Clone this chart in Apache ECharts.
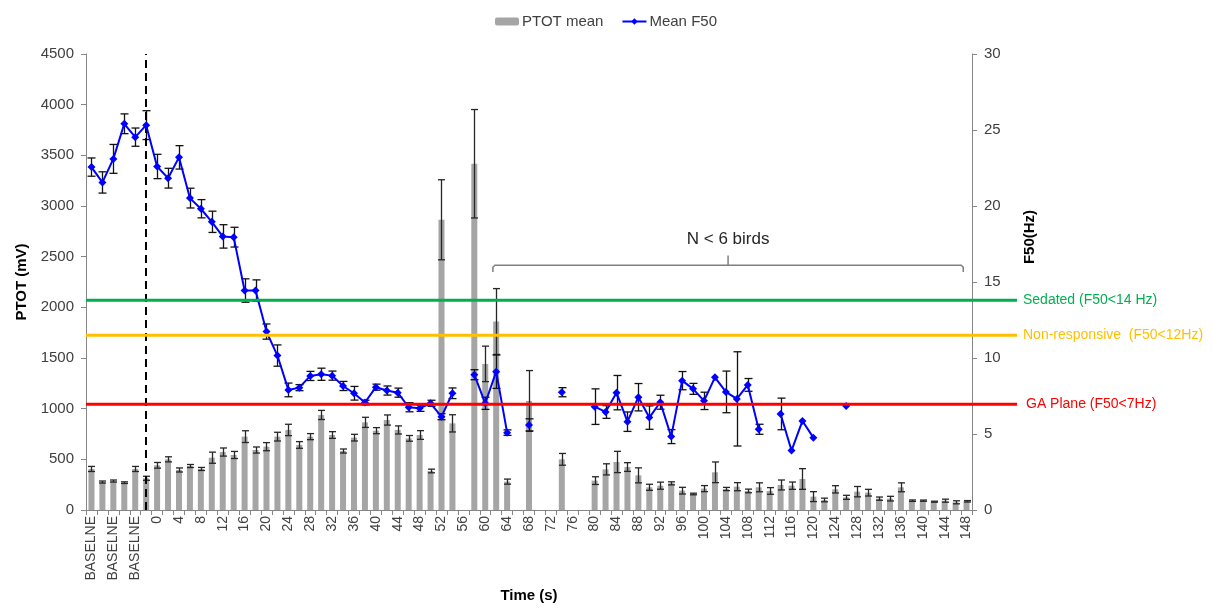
<!DOCTYPE html>
<html>
<head>
<meta charset="utf-8">
<script src="https://cdn.jsdelivr.net/npm/echarts@6/dist/echarts.min.js"></script>
<style>
html,body{margin:0;padding:0;background:#fff;}
#chart{width:1212px;height:608px;}
</style>
</head>
<body>
<div id="chart"></div>
<script>
// ---- categories / tick labels ----
var baselineLabels = ['BASELNE','BASELNE','BASELNE','BASELNE','BASELNE','BASELNE'];
var timeLabels = ['0','2','4','6','8','10','12','14','16','18','20','22','24','26','28','30','32','34','36','38',
  '40','42','44','46','48','50','52','54','56','58','60','62','64','66','68','70','72','74','76','78',
  '80','82','84','86','88','90','92','94','96','98','100','102','104','106','108','110','112','114','116','118',
  '120','122','124','126','128','130','132','134','136','138','140','142','144','146','148'];
var categories = baselineLabels.concat(timeLabels);

// ---- PTOT mean (mV) and its error ----
var ptotMean = [405,276,286,270,405,313,
  441,500,395,434,405,516,572,543,724,592,625,724,790,642,724,938,740,582,714,865,783,888,790,707,
  740,385,2864,855,null,3417,1442,1860,280,null,1076,null,null,500,null,null,290,401,474,424,
  342,224,240,263,191,158,211,372,207,230,188,224,188,247,240,306,132,99,204,125,
  181,171,112,112,224,92,92,82,92,76,86];
var ptotErr = [25,10,10,8,25,20,
  28,25,20,15,15,55,40,35,58,30,40,43,56,33,30,45,33,20,33,50,30,50,40,28,
  43,18,395,85,null,535,175,325,25,null,300,null,null,58,null,null,38,55,105,43,
  74,30,35,15,33,8,30,102,16,40,18,44,33,49,36,102,49,18,36,20,
  51,33,16,23,44,7,6,5,15,15,7];

// ---- Mean F50 (Hz) and its error ----
var f50Mean = [22.56,21.55,23.1,25.41,24.53,25.32,
  22.6,21.83,23.2,20.52,19.82,18.96,18.0,17.95,14.44,14.44,11.74,10.16,7.9,8.05,8.82,8.93,8.84,8.16,7.68,7.07,8.08,7.86,7.72,6.76,
  6.69,7.02,6.14,7.68,null,8.9,7.02,9.1,5.09,null,5.6,null,null,7.75,null,null,6.8,6.45,7.72,5.81,
  7.42,6.08,7.09,4.83,8.51,7.97,7.18,8.73,7.77,7.31,8.23,5.31,null,6.32,3.91,5.86,4.76,null,null,6.85,
  null,null,null,null,null,null,null,null,null,null,null];
var f50Err = [0.6,0.7,0.95,0.65,0.6,0.95,
  0.8,0.65,0.77,0.65,0.6,0.7,0.77,0.65,0.77,0.7,0.5,0.7,0.45,0.2,0.3,0.4,0.3,0.3,0.45,0.15,0.2,0.3,0.3,0.3,
  0.2,0.2,0.2,0.35,null,0.33,0.4,1.1,0.18,null,0.4,null,null,0.3,null,null,1.17,0.42,1.13,0.64,
  0.9,0.77,0.46,0.46,0.6,0.36,0.57,0,1.37,3.1,0.42,0.33,null,1.04,0,0,0,null,null,0,
  null,null,null,null,null,null,null,null,null,null,null];

// ---- threshold lines (Hz) ----
var thresholdNames = ['Sedated (F50<14 Hz)','Non-responsive  (F50<12Hz)','GA Plane (F50<7Hz)'];
var thresholdValues = [13.8, 11.5, 6.95];
var thresholdColors = ['#00b050','#ffc000','#ff0000'];

// ---- annotations ----
var injectionIndex = 5;           // dashed vertical line at end of baseline
var braceText = 'N < 6 birds';
var braceFromIndex = 36.7, braceToIndex = 79.7, braceMidIndex = 58.2;
var braceLevel = 16.1, braceEndLevel = 15.65, braceTipLevel = 16.75, braceTextLevel = 17.8;

var FONT = 'Liberation Sans';

function errData(mean, err){
  var out = [];
  for (var i = 0; i < mean.length; i++){
    if (mean[i] != null && err[i]) out.push([i, mean[i] - err[i], mean[i] + err[i]]);
  }
  return out;
}
function makeErrRender(color, cap){
  return function(params, api){
    var lo = api.coord([api.value(0), api.value(1)]);
    var hi = api.coord([api.value(0), api.value(2)]);
    var x = Math.round(lo[0]) + 0.5;
    var st = {stroke: color, lineWidth: 1.3};
    return {type:'group', children:[
      {type:'line', shape:{x1:x,y1:lo[1],x2:x,y2:hi[1]}, style:st},
      {type:'line', shape:{x1:x-cap,y1:lo[1],x2:x+cap,y2:lo[1]}, style:st},
      {type:'line', shape:{x1:x-cap,y1:hi[1],x2:x+cap,y2:hi[1]}, style:st}
    ]};
  };
}

var chart = echarts.init(document.getElementById('chart'), null, {renderer:'canvas'});

var series = [
  {
    name:'PTOT mean', type:'bar', xAxisIndex:0, yAxisIndex:0,
    data: ptotMean, barWidth: 6,
    itemStyle:{color:'#a5a5a5'},
    z: 2,
    markLine:{
      silent:true, symbol:['none','none'], label:{show:false},
      lineStyle:{color:'#000', width:2, type:[8,5]},
      data:[{xAxis: injectionIndex}],
      animation:false
    }
  },
  {
    name:'PTOT err', type:'custom', xAxisIndex:0, yAxisIndex:0,
    renderItem: makeErrRender('#262626', 3.5),
    data: errData(ptotMean, ptotErr),
    encode:{x:0, y:[1,2]}, z: 3, silent:true
  },
  {
    name:'F50 err', type:'custom', xAxisIndex:0, yAxisIndex:1,
    renderItem: makeErrRender('#111', 4),
    data: errData(f50Mean, f50Err),
    encode:{x:0, y:[1,2]}, z: 4, silent:true
  },
  {
    name:'Mean F50', type:'line', xAxisIndex:0, yAxisIndex:1,
    data: f50Mean, connectNulls:false,
    symbol:'diamond', symbolSize:8, showAllSymbol:true,
    lineStyle:{color:'#0000ff', width:2},
    itemStyle:{color:'#0000ff'},
    z: 5
  }
];

// threshold lines live on a second, wider grid sharing the F50 scale
thresholdValues.forEach(function(v, k){
  series.push({
    name: thresholdNames[k], type:'line', xAxisIndex:1, yAxisIndex:2,
    data:[[0, v],[1, v]], symbol:'none', silent:true,
    lineStyle:{color:thresholdColors[k], width:3},
    itemStyle:{color:thresholdColors[k]},
    z: 6,
    endLabel:{show:true, formatter: thresholdNames[k], color:thresholdColors[k],
      fontFamily:FONT, fontSize:14, distance: k === 2 ? 9 : 6}
  });
});

var option = {
  animation:false,
  backgroundColor:'#fff',
  textStyle:{fontFamily:FONT},
  legend:{
    data:['PTOT mean','Mean F50'],
    top: 9, left:'center',
    itemWidth:24, itemHeight:8, itemGap:18,
    textStyle:{fontFamily:FONT, fontSize:15, color:'#404040', padding:[0,0,0,-2]}
  },
  grid:[
    {left:86, right:240, top:54, bottom:98, outerBoundsMode:'none', containLabel:false},
    {left:86, right:195, top:54, bottom:98, outerBoundsMode:'none', containLabel:false}
  ],
  xAxis:[
    {
      type:'category', data:categories, gridIndex:0,
      name:'Time (s)', nameLocation:'middle', nameGap:78,
      nameTextStyle:{fontFamily:FONT, fontSize:15, fontWeight:'bold', color:'#000'},
      axisLine:{lineStyle:{color:'#868686'}},
      axisTick:{show:true, interval:0, length:5, lineStyle:{color:'#868686'}},
      axisLabel:{interval:1, rotate:90, margin:6, fontFamily:FONT, fontSize:14, color:'#404040'},
      splitLine:{show:false}
    },
    {
      type:'value', gridIndex:1, min:0, max:1, show:false
    }
  ],
  yAxis:[
    {
      type:'value', gridIndex:0, min:0, max:4500, interval:500, position:'left',
      name:'PTOT (mV)', nameLocation:'middle', nameGap:54, nameRotate:90,
      nameTextStyle:{fontFamily:FONT, fontSize:15, fontWeight:'bold', color:'#000'},
      axisLine:{show:true, lineStyle:{color:'#868686'}},
      axisTick:{show:true, length:5, lineStyle:{color:'#868686'}},
      axisLabel:{margin:12, fontFamily:FONT, fontSize:15, color:'#404040',
        formatter:function(v){ return String(v); }},
      splitLine:{show:false}
    },
    {
      type:'value', gridIndex:0, min:0, max:30, interval:5, position:'right',
      name:'F50(Hz)', nameLocation:'middle', nameGap:50, nameRotate:90,
      nameTextStyle:{fontFamily:FONT, fontSize:15, fontWeight:'bold', color:'#000', padding:[0,0,0,90]},
      axisLine:{show:true, lineStyle:{color:'#868686'}},
      axisTick:{show:true, length:5, lineStyle:{color:'#868686'}},
      axisLabel:{margin:12, fontFamily:FONT, fontSize:15, color:'#404040',
        formatter:function(v){ return String(v); }},
      splitLine:{show:false}
    },
    {
      type:'value', gridIndex:1, min:0, max:30, show:false
    }
  ],
  series: series
};
chart.setOption(option);

// ---- brace annotation, positioned through the axes ----
function xAtIndex(f){
  var a = chart.convertToPixel({xAxisIndex:0}, 0);
  var b = chart.convertToPixel({xAxisIndex:0}, 1);
  return a + (b - a) * f;
}
function yAtF50(v){ return chart.convertToPixel({yAxisIndex:1}, v); }
var bx0 = xAtIndex(braceFromIndex), bx1 = xAtIndex(braceToIndex), bxm = xAtIndex(braceMidIndex);
var by = yAtF50(braceLevel), byEnd = yAtF50(braceEndLevel), byTip = yAtF50(braceTipLevel), byText = yAtF50(braceTextLevel);
chart.setOption({
  graphic:[
    {type:'polyline', silent:true, z:10,
      shape:{points:[[bx0,byEnd],[bx0,by+2],[bx0+2,by],[bx1-2,by],[bx1,by+2],[bx1,byEnd]]},
      style:{stroke:'#7f7f7f', lineWidth:1.5, fill:null}},
    {type:'line', silent:true, z:10,
      shape:{x1:bxm, y1:by, x2:bxm, y2:byTip},
      style:{stroke:'#7f7f7f', lineWidth:1.5}},
    {type:'text', silent:true, z:10, x:bxm, y:byText,
      style:{text:braceText, fontFamily:FONT, fontSize:17, fill:'#262626', align:'center', verticalAlign:'middle'}}
  ]
});
</script>
</body>
</html>
